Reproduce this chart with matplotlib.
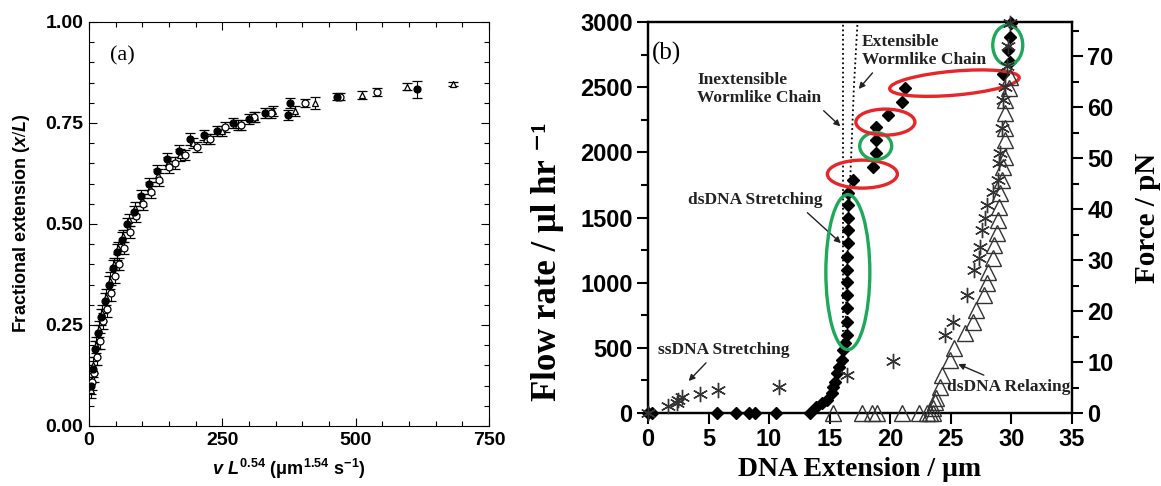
import numpy as np
import matplotlib.pyplot as plt
import matplotlib.transforms as mtransforms
from matplotlib.patches import Ellipse
from matplotlib.ticker import MultipleLocator, FormatStrFormatter

plt.rcParams['mathtext.fontset'] = 'custom'
plt.rcParams['mathtext.rm'] = 'Liberation Serif:bold'
plt.rcParams['mathtext.it'] = 'Liberation Sans:italic:bold'
plt.rcParams['mathtext.sf'] = 'Liberation Sans:bold'
plt.rcParams['mathtext.bf'] = 'Liberation Sans:bold'

# ---- panel (a): fractional extension vs scaled velocity ----
fill_x = [3, 7, 12, 17, 23, 30, 37, 45, 53, 62, 72, 84, 97, 112, 128, 147, 168, 189, 215, 240, 270, 300, 330, 374, 377, 465, 615]
fill_y = [0.10, 0.14, 0.19, 0.23, 0.27, 0.31, 0.35, 0.39, 0.43, 0.46, 0.50, 0.53, 0.57, 0.60, 0.63, 0.66, 0.68, 0.71, 0.72, 0.73, 0.75, 0.76, 0.775, 0.77, 0.80, 0.815, 0.833]
fill_e = [0.02, 0.02, 0.02, 0.02, 0.02, 0.02, 0.02, 0.02, 0.02, 0.02, 0.015, 0.015, 0.015, 0.015, 0.015, 0.015, 0.015, 0.015, 0.012, 0.012, 0.012, 0.012, 0.012, 0.012, 0.012, 0.008, 0.02]

open_x = [5, 10, 15, 21, 27, 34, 41, 49, 57, 66, 76, 88, 101, 116, 132, 150, 161, 180, 203, 226, 254, 285, 310, 342, 405, 470, 540]
open_y = [0.11, 0.13, 0.17, 0.21, 0.26, 0.29, 0.33, 0.37, 0.40, 0.44, 0.48, 0.52, 0.55, 0.58, 0.61, 0.64, 0.65, 0.67, 0.69, 0.71, 0.74, 0.745, 0.765, 0.775, 0.80, 0.815, 0.827]
open_e = [0.02, 0.02, 0.02, 0.02, 0.02, 0.02, 0.02, 0.015, 0.015, 0.015, 0.015, 0.015, 0.015, 0.015, 0.015, 0.015, 0.015, 0.012, 0.012, 0.012, 0.012, 0.012, 0.012, 0.012, 0.01, 0.008, 0.01]

tri_a_x = [4, 8, 13, 19, 25, 32, 39, 47, 55, 64, 74, 86, 99, 114, 130, 148, 170, 195, 220, 250, 280, 312, 345, 386, 424, 512, 596, 683]
tri_a_y = [0.09, 0.15, 0.20, 0.24, 0.28, 0.32, 0.36, 0.40, 0.44, 0.47, 0.51, 0.54, 0.56, 0.59, 0.62, 0.65, 0.67, 0.70, 0.71, 0.73, 0.745, 0.765, 0.78, 0.78, 0.80, 0.82, 0.84, 0.847]
tri_a_e = [0.02, 0.02, 0.02, 0.02, 0.02, 0.02, 0.02, 0.015, 0.015, 0.015, 0.015, 0.015, 0.015, 0.015, 0.015, 0.015, 0.015, 0.012, 0.012, 0.012, 0.012, 0.012, 0.012, 0.012, 0.015, 0.01, 0.008, 0.005]

# ---- panel (b): flow rate / force vs DNA extension ----
dia_x = [0.0, 0.3, 5.7, 7.3, 8.3, 8.8, 10.6, 13.4, 13.9, 14.4, 14.8, 15.2, 15.3, 15.4, 15.6, 15.8, 16.0, 16.1,
         16.3, 16.4, 16.4, 16.4, 16.4, 16.4, 16.4, 16.4, 16.5, 16.5, 16.5, 16.5, 16.5,
         16.9, 18.6, 18.8, 18.8, 18.8, 19.8, 21.0, 21.2, 29.3, 29.9, 29.7, 29.9, 30.0]
dia_flow = [0, 0, 0, 0, 0, 0, 0, 0, 46, 77, 100, 153, 200, 238, 307, 353, 406, 483,
            540, 598, 698, 805, 905, 1005, 1097, 1197, 1304, 1404, 1496, 1595, 1687,
            1787, 1887, 1993, 2093, 2193, 2285, 2385, 2493, 2600, 2693, 2785, 2885, 2990]

ast_x = [0.0, 1.65, 2.4, 2.5, 2.8, 4.3, 5.8, 10.8, 16.4, 20.2, 24.5, 25.2, 26.3, 26.9, 27.3, 27.4, 27.6, 27.8,
         28.0, 28.5, 28.9, 29.0, 29.1, 29.2, 29.3, 29.5, 29.6, 29.7, 29.9]
ast_force = [0.0, 1.4, 2.0, 2.5, 3.2, 3.7, 4.5, 5.1, 7.5, 10.2, 15.3, 17.8, 23.1, 28.0, 30.4, 32.5, 35.9, 38.2,
             40.8, 43.3, 45.7, 49.0, 51.0, 56.0, 61.4, 64.0, 68.0, 72.0, 76.5]

rel_x = [15.3, 17.7, 18.5, 18.9, 21.0, 22.4, 23.0, 23.3, 23.5, 23.5, 23.7, 23.8, 24.1, 24.3, 24.9, 25.3, 26.2, 26.8,
         27.1, 27.7, 28.0, 28.1, 28.5, 28.6, 28.8, 28.9, 29.0, 29.1, 29.2, 29.3, 29.5, 29.5, 29.5, 29.5, 29.5, 29.8, 29.9]
rel_force = [0, 0, 0, 0, 0, 0, 0, 0, 0, 1.0, 2.2, 2.9, 5.1, 7.5, 10.4, 12.7, 15.7, 17.8,
             20.2, 23.1, 25.5, 27.6, 30.4, 32.9, 35.3, 37.8, 40.4, 43.1, 45.7, 48.2, 50.2, 53.5, 56.0, 58.8, 61.4, 63.7, 66.0]

# model curves
iwlc_x = [16.1, 16.1]
iwlc_flow = [300, 3000]
ewlc_x = [16.2, 16.4, 16.7, 17.0, 17.3]
ewlc_flow = [300, 1000, 1800, 2500, 3000]

fig = plt.figure(figsize=(11.61, 4.86), dpi=100)

# ================= panel (a) =================
ax1 = fig.add_axes([0.0767, 0.1235, 0.3445, 0.8313])
eb = dict(capsize=3.5, elinewidth=0.8, capthick=0.8, ecolor='black', linestyle='none', zorder=3)
ax1.errorbar(tri_a_x, tri_a_y, yerr=tri_a_e, marker='^', ms=5, mfc='white', mec='black', mew=0.9, **eb)
ax1.errorbar(open_x, open_y, yerr=open_e, marker='o', ms=5, mfc='white', mec='black', mew=0.9, **eb)
ax1.errorbar(fill_x, fill_y, yerr=fill_e, marker='o', ms=5, mfc='black', mec='black', mew=0.9, **eb)

ax1.set_xlim(0, 750)
ax1.set_ylim(0, 1)
ax1.set_xticks([0, 250, 500, 750])
ax1.set_yticks([0, 0.25, 0.5, 0.75, 1.0])
ax1.yaxis.set_major_formatter(FormatStrFormatter('%.2f'))
ax1.xaxis.set_minor_locator(MultipleLocator(50))
ax1.yaxis.set_minor_locator(MultipleLocator(0.05))
ax1.tick_params(which='both', direction='in', top=True, right=True, width=0.8)
ax1.tick_params(which='major', length=6, labelsize=14, pad=4)
ax1.tick_params(which='minor', length=3.5)
for lab in ax1.get_xticklabels() + ax1.get_yticklabels():
    lab.set_family('Liberation Sans')
    lab.set_weight('bold')
for sp in ax1.spines.values():
    sp.set_linewidth(0.8)
ax1.set_ylabel(r'Fractional extension ($\mathit{x/L}$)', family='Liberation Sans',
               weight='bold', fontsize=13, labelpad=10)
ax1.set_xlabel(r'$\mathit{v\ L}^{\mathsf{0.54}}\ \mathsf{(\mu m^{1.54}\ s^{-1})}$', fontsize=13, labelpad=6)
ax1.text(0.0525, 0.916, '(a)', transform=ax1.transAxes, family='Liberation Serif',
         fontsize=16, va='center', ha='left')

# ================= panel (b) =================
ax2 = fig.add_axes([0.5581, 0.1502, 0.3652, 0.8045])
ax3 = ax2.twinx()

ax2.plot(iwlc_x, iwlc_flow, color='black', lw=1.3, linestyle=(0, (1, 1.6)), zorder=2)
ax2.plot(ewlc_x, ewlc_flow, color='black', lw=1.3, linestyle=(0, (1, 1.6)), zorder=2)
ax2.plot(dia_x, dia_flow, linestyle='none', marker='D', ms=6.5, color='black', clip_on=False, zorder=4)

ax3.plot(rel_x, rel_force, linestyle='none', marker='^', ms=11, mfc='none', mec='#333333', mew=1.0,
         clip_on=False, zorder=3)
ax3.plot(ast_x, ast_force, linestyle='none', marker=(6, 2, 0), ms=11, color='#333333', mew=1.0,
         clip_on=False, zorder=3)

ax2.set_xlim(0, 35)
ax2.set_ylim(0, 3000)
ax3.set_ylim(0, 76.7)
ax2.set_xticks(range(0, 36, 5))
ax2.set_yticks(range(0, 3001, 500))
ax2.yaxis.set_minor_locator(MultipleLocator(250))
ax3.set_yticks(range(0, 71, 10))
ax3.yaxis.set_minor_locator(MultipleLocator(5))

for ax in (ax2, ax3):
    ax.tick_params(which='both', direction='out', width=1.5)
    ax.tick_params(which='major', length=8, labelsize=17, pad=3)
    ax.tick_params(which='minor', length=5)
    for sp in ax.spines.values():
        sp.set_linewidth(1.6)
    for lab in ax.get_xticklabels() + ax.get_yticklabels():
        lab.set_family('Liberation Sans')
        lab.set_weight('bold')

ax2.set_xlabel('DNA Extension / μm', family='Liberation Serif', weight='bold', fontsize=20, labelpad=4)
ax2.set_ylabel('Flow rate / μl hr \u207b\u00b9', family=['Liberation Serif', 'DejaVu Serif'],
               weight='bold', fontsize=25)
ax2.yaxis.set_label_coords(-0.198, 0.386)
ax3.set_ylabel('Force / pN', family='Liberation Serif', weight='bold', fontsize=21)
ax3.yaxis.set_label_coords(1.146, 0.50)

ax2.text(0.01, 0.92, '(b)', transform=ax2.transAxes, family='Liberation Serif', fontsize=18,
         va='center', ha='left')

ann = dict(family='Liberation Serif', weight='bold', fontsize=12.5, color='#222222')
arr = dict(arrowstyle='-|>', color='#222222', lw=1.0, mutation_scale=9)
ax2.annotate('Inextensible\nWormlike Chain', xy=(16.05, 2185), xytext=(4.05, 2485),
             va='center', ha='left', linespacing=1.15, arrowprops=dict(arr, relpos=(0.98, 0.0)), **ann)
ax2.annotate('Extensible\nWormlike Chain', xy=(17.25, 2470), xytext=(17.65, 2777),
             va='center', ha='left', linespacing=1.15, arrowprops=dict(arr, relpos=(0.12, 0.0)), **ann)
ax2.annotate('dsDNA Stretching', xy=(16.1, 1289), xytext=(3.3, 1634),
             va='center', ha='left', arrowprops=dict(arr, relpos=(0.85, 0.0)), **ann)
ax2.annotate('ssDNA Stretching', xy=(3.2, 230), xytext=(0.83, 483),
             va='center', ha='left', arrowprops=dict(arr, relpos=(0.4, 0.0)), **ann)
ax3.annotate('dsDNA Relaxing', xy=(25.4, 9.8), xytext=(24.7, 5.1),
             va='center', ha='left', arrowprops=dict(arr, relpos=(0.37, 1.0)), **ann)

# highlight rings (pixel sized, centred on data points)
rings = [(16.5, 1081, 44, 155, 0, '#1ea85a'),
         (17.7, 1833, 70, 28, 0, '#e8262a'),
         (18.8, 2048, 32, 27, 0, '#1ea85a'),
         (19.6, 2232, 59, 26, 0, '#e8262a'),
         (25.3, 2531, 130, 24, 5, '#e8262a'),
         (29.7, 2823, 30, 40, 0, '#1ea85a')]
for cx, cy, w, h, ang, col in rings:
    tr = (mtransforms.Affine2D().scale(1 / 100.0) + fig.dpi_scale_trans
          + mtransforms.ScaledTranslation(cx, cy, ax2.transData))
    e = Ellipse((0, 0), w, h, angle=ang, fill=False, edgecolor=col, lw=2.4, transform=tr, zorder=6)
    ax2.add_patch(e)

fig.savefig('out.png', dpi=100)
